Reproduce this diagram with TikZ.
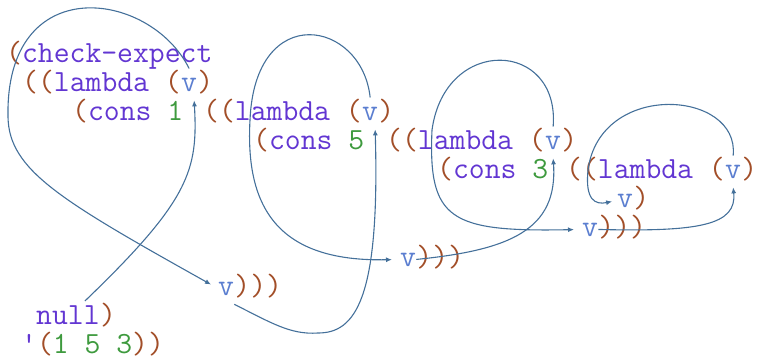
\documentclass[tikz,border=0pt]{standalone}
\usepackage{fontspec}
\setmonofont{Latin Modern Mono}
\usepackage{xcolor}
\usepackage{tikz}
\usetikzlibrary{arrows.meta,positioning}
\definecolor{kw}{HTML}{6236D2}
\definecolor{vblue}{HTML}{5B7ED0}
\definecolor{paren}{HTML}{A24E28}
\definecolor{num}{HTML}{3E9A3E}
\definecolor{link}{HTML}{44709A}
\tikzset{
  code/.style={inner sep=0pt, anchor=base west, text=kw, font=\ttfamily\fontsize{30.8}{33}\selectfont},
  vbox/.style={code, text=vblue, inner ysep=9pt},
  arr/.style={-{Latex[length=6pt,width=5pt]}, line width=1.1pt, draw=link}
}

\begin{document}
\begin{tikzpicture}[x=1pt, y=-1pt]
  \useasboundingbox (0,0) rectangle (757,360);

  \node[code] (r1) at (6,62) {\textcolor{paren}{(}check-expect};

  \node[code] (r2) at (22,91) {\textcolor{paren}{((}lambda \textcolor{paren}{(}};
  \node[vbox, base right=0pt of r2] (v2) {v};
  \node[code, base right=0pt of v2] (r2e) {\textcolor{paren}{)}};

  \node[code] (c1) at (72,120) {\textcolor{paren}{(}cons \textcolor{num}{1}};
  \node[code] (r3) at (203,120) {\textcolor{paren}{((}lambda \textcolor{paren}{(}};
  \node[vbox, base right=0pt of r3] (v3) {v};
  \node[code, base right=0pt of v3] (r3e) {\textcolor{paren}{)}};

  \node[code] (c5) at (253,149) {\textcolor{paren}{(}cons \textcolor{num}{5}};
  \node[code] (r4) at (386,149) {\textcolor{paren}{((}lambda \textcolor{paren}{(}};
  \node[vbox, base right=0pt of r4] (v4) {v};
  \node[code, base right=0pt of v4] (r4e) {\textcolor{paren}{)}};

  \node[code] (c3) at (437,178) {\textcolor{paren}{(}cons \textcolor{num}{3}};
  \node[code] (r5) at (566,178) {\textcolor{paren}{((}lambda \textcolor{paren}{(}};
  \node[vbox, base right=0pt of r5] (v5) {v};
  \node[code, base right=0pt of v5] (r5e) {\textcolor{paren}{)}};

  \node[vbox] (v6) at (617,207) {v};
  \node[code, base right=0pt of v6] (r6e) {\textcolor{paren}{)}};
  \node[vbox] (v7) at (582,236) {v};
  \node[code, base right=0pt of v7] (r7e) {\textcolor{paren}{)))}};
  \node[vbox] (v8) at (400,266) {v};
  \node[code, base right=0pt of v8] (r8e) {\textcolor{paren}{)))}};
  \node[vbox] (v9) at (218,295) {v};
  \node[code, base right=0pt of v9] (r9e) {\textcolor{paren}{)))}};

  \node[code] (null) at (36,324) {null};
  \node[code, base right=0pt of null] (r10e) {\textcolor{paren}{)}};
  \node[code] (list) at (21,353) {'\textcolor{paren}{(}\textcolor{num}{1 5 3}\textcolor{paren}{))}};

  % null goes in as the first v
  \draw[arr] ([xshift=17pt,yshift=4pt]null.north) .. controls (190,200) and (198,170) .. ([xshift=5pt]v2.south);
  \draw[arr, shorten >=8pt] (v2.north) .. controls (150,-10) and (5,-30) .. (8,117)
    .. controls (9,170) and (60,200) .. (v9.west);

  % second lambda
  \draw[arr] (v9.south east) .. controls (270,322) and (290,335) .. (318,333)
    .. controls (355,333) and (380,300) .. ([xshift=5pt]v3.south);
  \draw[arr, shorten >=8pt] (v3.north) .. controls (362,20) and (255,0) .. (250,120)
    .. controls (245,210) and (280,262) .. (v8.west);

  % third lambda
  \draw[arr] (v8.east) .. controls (510,250) and (558,230) .. (v4.south);
  \draw[arr, shorten >=8pt] (v4.north) .. controls (560,40) and (445,35) .. (432,130)
    .. controls (428,220) and (450,232) .. (v7.west);

  % last lambda
  \draw[arr] (v7.east) .. controls (700,232) and (737,225) .. (v5.south);
  \draw[arr, shorten >=5pt] (v5.north) .. controls (740,90) and (600,80) .. (588,170)
    .. controls (585,200) and (595,205) .. (v6.west);
\end{tikzpicture}
\end{document}
